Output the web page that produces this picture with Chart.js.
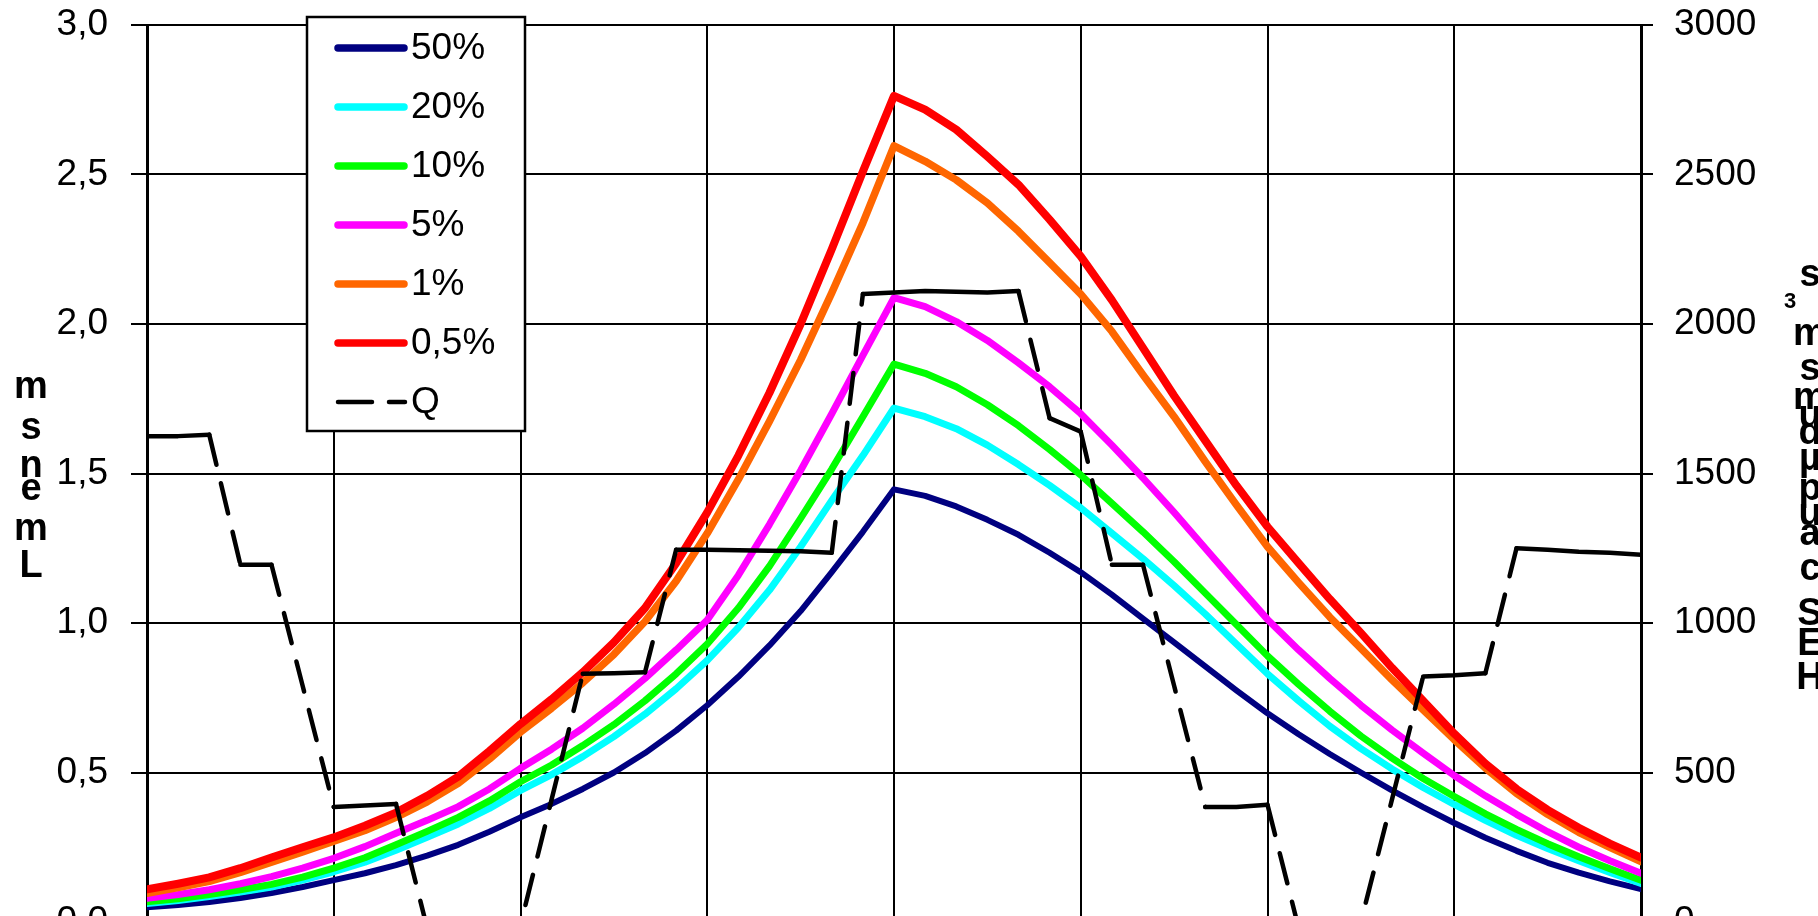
<!DOCTYPE html>
<html><head><meta charset="utf-8">
<script src="https://cdn.jsdelivr.net/npm/chart.js@4.4.1/dist/chart.umd.min.js"></script>
<style>
html,body{margin:0;padding:0;overflow:hidden;background:#fff;width:1818px;height:916px}
canvas{display:block}
</style></head>
<body><canvas id="c" width="1818" height="1000"></canvas>
<script>
const hours = [0,0.5,1,1.5,2,2.5,3,3.5,4,4.5,5,5.5,6,6.5,7,7.5,8,8.5,9,9.5,10,10.5,11,11.5,12,12.5,13,13.5,14,14.5,15,15.5,16,16.5,17,17.5,18,18.5,19,19.5,20,20.5,21,21.5,22,22.5,23,23.5,24];
const seriesLabels = ['50%','20%','10%','5%','1%','0,5%','Q'];
const seriesColors = ['#000080','#00FFFF','#00FF00','#FF00FF','#FF6600','#FF0000','#000000'];
const p50  = [0.049,0.057,0.067,0.080,0.097,0.117,0.140,0.163,0.190,0.222,0.258,0.302,0.350,0.395,0.445,0.500,0.565,0.640,0.725,0.820,0.925,1.040,1.170,1.305,1.447,1.425,1.390,1.345,1.295,1.235,1.170,1.095,1.015,0.935,0.855,0.775,0.698,0.628,0.562,0.500,0.440,0.384,0.331,0.282,0.238,0.198,0.165,0.136,0.110];
const p20  = [0.062,0.072,0.085,0.100,0.117,0.140,0.168,0.200,0.240,0.283,0.328,0.380,0.440,0.493,0.553,0.620,0.695,0.780,0.875,0.985,1.110,1.255,1.410,1.560,1.719,1.690,1.650,1.595,1.530,1.460,1.385,1.300,1.215,1.125,1.030,0.930,0.830,0.740,0.655,0.580,0.512,0.450,0.393,0.340,0.290,0.246,0.205,0.166,0.129];
const p10  = [0.068,0.078,0.092,0.108,0.126,0.150,0.180,0.215,0.258,0.303,0.350,0.405,0.469,0.525,0.590,0.660,0.740,0.830,0.930,1.050,1.190,1.350,1.515,1.690,1.866,1.835,1.790,1.730,1.660,1.580,1.495,1.400,1.305,1.205,1.100,0.995,0.890,0.795,0.705,0.622,0.548,0.480,0.420,0.362,0.310,0.262,0.218,0.178,0.140];
const p5   = [0.079,0.092,0.108,0.128,0.152,0.180,0.213,0.252,0.297,0.340,0.386,0.445,0.514,0.578,0.648,0.728,0.815,0.910,1.010,1.160,1.330,1.510,1.700,1.895,2.088,2.058,2.008,1.945,1.870,1.790,1.700,1.595,1.485,1.370,1.250,1.130,1.012,0.910,0.815,0.725,0.642,0.565,0.490,0.422,0.360,0.302,0.250,0.205,0.163];
const p1   = [0.096,0.115,0.136,0.166,0.200,0.234,0.270,0.306,0.350,0.402,0.464,0.545,0.635,0.715,0.800,0.895,1.005,1.140,1.300,1.480,1.675,1.880,2.104,2.338,2.596,2.544,2.482,2.405,2.310,2.205,2.100,1.975,1.830,1.690,1.540,1.395,1.255,1.135,1.020,0.915,0.810,0.710,0.610,0.515,0.430,0.360,0.300,0.250,0.202];
const p05  = [0.109,0.128,0.149,0.180,0.216,0.250,0.283,0.322,0.366,0.422,0.486,0.572,0.662,0.745,0.835,0.935,1.050,1.200,1.370,1.560,1.770,2.000,2.250,2.510,2.763,2.717,2.650,2.560,2.466,2.349,2.226,2.080,1.920,1.760,1.610,1.460,1.322,1.200,1.080,0.967,0.850,0.740,0.630,0.530,0.445,0.375,0.315,0.262,0.215];
const qFlow = [1625,1625,1630,1195,1195,790,385,390,395,-20,-430,-430,-10,410,830,832,835,1245,1245,1243,1242,1240,1235,2100,2105,2110,2108,2105,2110,1685,1640,1195,1195,790,385,385,392,-20,-420,0,410,821,825,832,1250,1245,1238,1235,1228];
const leftTickLabels = ['0,0','0,5','1,0','1,5','2,0','2,5','3,0'];
const rightTickLabels = ['0','500','1000','1500','2000','2500','3000'];
const leftTitleChars = ['m','s','n','e','m','L'];
const rightTitleChars = ['s','m','s','m','u','d','\u00b5','p','u','a','c','S','E','H'];

const FONT = "'Liberation Sans', Arial, sans-serif";
Chart.defaults.font.family = FONT;
Chart.defaults.color = '#000';

const toXY = arr => arr.map((v, i) => ({x: hours[i], y: v}));
const widths = [6, 7, 7, 7, 7.5, 8];
const curveSets = [p50, p20, p10, p5, p1, p05];
const datasets = curveSets.map((arr, k) => ({
  label: seriesLabels[k], data: toXY(arr), borderColor: seriesColors[k], backgroundColor: seriesColors[k],
  borderWidth: widths[k], pointRadius: 0, tension: 0, yAxisID: 'y', order: 6 - k,
  borderJoinStyle: 'round', borderCapStyle: 'round'
}));
datasets.push({
  label: seriesLabels[6], data: toXY(qFlow), borderColor: '#000', backgroundColor: '#000',
  borderWidth: 4.5, pointRadius: 0, tension: 0, yAxisID: 'y1', order: 0,
  borderJoinStyle: 'round', borderCapStyle: 'round',
  segment: { borderDash: ctx => Math.abs(ctx.p1.parsed.y - ctx.p0.parsed.y) < 100 ? [] : [31, 19] }
});

const overlay = {
  id: 'overlay',
  afterDraw(chart) {
    const c = chart.ctx;
    c.save();
    const bx = 307, by = 17, bw = 218, bh = 414;
    c.fillStyle = '#fff'; c.fillRect(bx, by, bw, bh);
    c.strokeStyle = '#000'; c.lineWidth = 2.5; c.strokeRect(bx, by, bw, bh);
    c.font = '37px ' + FONT; c.textBaseline = 'middle'; c.textAlign = 'left';
    chart.data.datasets.forEach((ds, i) => {
      const y = 48 + i * 59;
      c.strokeStyle = ds.borderColor; c.lineCap = 'round';
      if (ds.label === 'Q') {
        c.lineWidth = 4.5;
        c.beginPath(); c.moveTo(338, y); c.lineTo(372, y); c.moveTo(389, y); c.lineTo(405, y); c.stroke();
      } else {
        c.lineWidth = 7.5;
        c.beginPath(); c.moveTo(338, y); c.lineTo(404, y); c.stroke();
      }
      c.fillStyle = '#000';
      c.fillText(ds.label, 411, y + 1);
    });
    c.font = 'bold 38px ' + FONT; c.textAlign = 'center'; c.textBaseline = 'alphabetic';
    const leftY = [398, 439, 477, 500, 540, 577];
    leftTitleChars.forEach((ch, i) => c.fillText(ch, 31, leftY[i]));
    const rightY = [286, 345, 380, 409, 427, 444, 470, 500, 525, 545, 580, 625, 655, 689];
    rightTitleChars.forEach((ch, i) => c.fillText(ch, 1810, rightY[i]));
    c.font = 'bold 22px ' + FONT;
    c.fillText('3', 1790, 308);
    c.restore();
  }
};

new Chart(document.getElementById('c'), {
  type: 'line',
  data: { datasets },
  options: {
    responsive: false, animation: false, devicePixelRatio: 1,
    layout: { padding: { top: 25, left: 0, right: 0, bottom: 0 } },
    plugins: { legend: { display: false }, tooltip: { enabled: false } },
    scales: {
      x: {
        type: 'linear', min: 0, max: 24,
        ticks: { stepSize: 3, font: { size: 37 }, color: '#000', maxRotation: 0 },
        grid: { color: '#000', lineWidth: 2, tickLength: 12 },
        border: { color: '#000', width: 3 },
        afterFit: s => { s.height = 78; s.paddingLeft = 0; s.paddingRight = 0; }
      },
      y: {
        position: 'left', min: 0, max: 3,
        ticks: { stepSize: 0.5, font: { size: 37 }, color: '#000', padding: 23,
          callback: (v, i) => leftTickLabels[i] },
        grid: { color: '#000', lineWidth: 2, tickLength: 16 },
        border: { color: '#000', width: 3 },
        afterFit: s => { s.width = 147; s.paddingTop = 0; s.paddingBottom = 0; }
      },
      y1: {
        position: 'right', min: 0, max: 3000,
        ticks: { stepSize: 500, font: { size: 37 }, color: '#000', padding: 21,
          callback: (v, i) => rightTickLabels[i] },
        grid: { drawOnChartArea: false, color: '#000', lineWidth: 2, tickLength: 12 },
        border: { color: '#000', width: 3 },
        afterFit: s => { s.width = 177; s.paddingTop = 0; s.paddingBottom = 0; }
      }
    }
  },
  plugins: [overlay]
});
</script>
</body></html>
